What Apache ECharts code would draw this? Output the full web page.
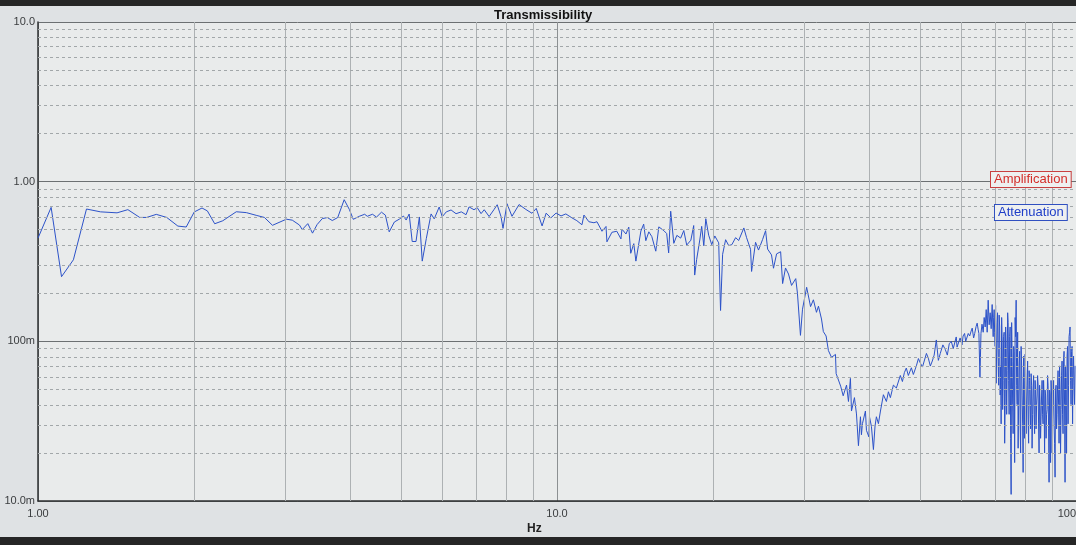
<!DOCTYPE html>
<html>
<head>
<meta charset="utf-8">
<script src="https://cdn.jsdelivr.net/npm/echarts@6/dist/echarts.min.js"></script>
<style>
html,body{margin:0;padding:0;background:#dfe2e4;}
#c{width:1076px;height:545px;}
</style>
</head>
<body>
<div id="c"></div>
<script>
// ---- tick labels ----
const xTickValues = [1, 10, 100];
const xTickLabels = ['1.00', '10.0', '100'];
const yTickValues = [0.01, 0.1, 1, 10];
const yTickLabels = ['10.0m', '100m', '1.00', '10.0'];
const xMinorGrid = [2, 3, 4, 5, 6, 7, 8, 9, 20, 30, 40, 50, 60, 70, 80, 90];
const yMinorGrid = [0.02, 0.03, 0.04, 0.05, 0.06, 0.07, 0.08, 0.09,
                    0.2, 0.3, 0.4, 0.5, 0.6, 0.7, 0.8, 0.9,
                    2, 3, 4, 5, 6, 7, 8, 9];

// ---- transmissibility trace: [frequency Hz, magnitude] ----
const lowBand = [[1.00,0.443],[1.06,0.69],[1.11,0.254],[1.17,0.324],[1.24,0.674],[1.32,0.647],[1.42,0.638],[1.49,0.668],[1.57,0.597],[1.62,0.597],[1.69,0.624],[1.77,0.597],[1.86,0.527],[1.93,0.52],[2.00,0.646],[2.07,0.684],[2.12,0.656],[2.19,0.545],[2.27,0.569],[2.41,0.648],[2.52,0.64],[2.64,0.614],[2.73,0.597],[2.83,0.533],[3.01,0.582],[3.09,0.574],[3.19,0.535]];

const midBand = [[3.23,0.501],[3.31,0.546],[3.38,0.476],[3.45,0.539],[3.53,0.587],[3.61,0.596],[3.69,0.571],[3.78,0.596],[3.89,0.771],[3.98,0.67],[4.05,0.581],[4.16,0.607],[4.26,0.625],[4.31,0.607],[4.41,0.625],[4.49,0.6],[4.59,0.644],[4.67,0.617],[4.75,0.485],[4.86,0.559],[4.97,0.583],[5.06,0.609],[5.12,0.575],[5.19,0.627],[5.26,0.422],[5.35,0.422],[5.43,0.601],[5.50,0.318],[5.60,0.44],[5.72,0.628],[5.80,0.585],[5.93,0.694],[6.01,0.603],[6.12,0.647],[6.25,0.665],[6.39,0.63],[6.54,0.647],[6.68,0.621],[6.77,0.695],[6.92,0.667],[7.02,0.687],[7.14,0.631],[7.24,0.667],[7.40,0.605],[7.56,0.668],[7.67,0.717],[7.80,0.605],[7.87,0.51],[8.01,0.728],[8.19,0.607],[8.45,0.719],[8.71,0.67],[8.95,0.634],[9.12,0.68],[9.36,0.528],[9.53,0.635],[9.73,0.593],[9.96,0.636],[10.18,0.61],[10.4,0.628],[10.68,0.594],[10.92,0.57]];

const rolloff = [[11.17,0.537],[11.27,0.618],[11.52,0.561],[11.78,0.553],[11.94,0.561],[12.21,0.489],[12.43,0.524],[12.48,0.42],[12.76,0.482],[13.04,0.489],[13.28,0.438],[13.34,0.504],[13.58,0.47],[13.75,0.519],[13.87,0.356],[14.06,0.409],[14.19,0.318],[14.51,0.491],[14.69,0.542],[14.83,0.427],[15.03,0.485],[15.23,0.453],[15.5,0.367],[15.71,0.521],[16.07,0.493],[16.27,0.473],[16.41,0.358],[16.56,0.653],[16.79,0.411],[17.02,0.461],[17.31,0.443],[17.55,0.494],[17.78,0.401],[18.11,0.43],[18.34,0.531],[18.42,0.26],[18.58,0.325],[18.84,0.431],[19.0,0.525],[19.18,0.397],[19.35,0.586],[19.6,0.462],[19.87,0.403],[20.14,0.457],[20.49,0.414],[20.66,0.156],[20.85,0.351],[21.13,0.433],[21.42,0.398],[21.72,0.403],[22.09,0.446],[22.39,0.428],[22.91,0.513],[23.19,0.446],[23.6,0.377],[23.71,0.274],[24.13,0.417],[24.45,0.373],[24.9,0.435],[25.23,0.493],[25.46,0.378],[25.9,0.348],[26.13,0.287],[26.49,0.353],[26.97,0.364],[27.21,0.23],[27.56,0.288],[27.93,0.264],[28.31,0.224],[28.84,0.247],[29.06,0.2],[29.45,0.109],[29.72,0.159],[30.27,0.218],[30.8,0.165],[31.19,0.182],[31.62,0.152]];

const notch = [[31.9,0.166],[32.33,0.138],[32.6,0.115],[33.0,0.108],[33.34,0.0875],[33.8,0.0794],[34.4,0.0828],[34.5,0.0628],[35.2,0.0524],[35.6,0.0456],[36.13,0.0532],[36.44,0.042],[36.76,0.0586],[36.93,0.0366],[37.42,0.0444],[37.76,0.0351],[38.09,0.0222],[38.43,0.0337],[38.6,0.026],[38.77,0.0305],[39.29,0.0366],[39.47,0.0277],[39.9,0.0252],[40.0,0.0337],[40.35,0.0293],[40.71,0.021],[41.0,0.0295],[41.25,0.0337],[41.62,0.0305],[42.0,0.0366],[42.55,0.0463],[43.12,0.042],[43.51,0.0483],[43.89,0.0444],[44.48,0.0532],[45.07,0.051],[45.87,0.0611],[46.3,0.056],[46.7,0.0637],[47.1,0.068],[47.53,0.0611],[48.17,0.0683],[48.6,0.062],[49.25,0.0702],[49.7,0.078],[50.12,0.0732],[50.6,0.069],[51.02,0.0673],[51.5,0.084],[51.93,0.0785],[52.4,0.07],[52.86,0.0753],[53.3,0.082],[53.81,0.102],[54.3,0.076],[54.77,0.0841],[55.4,0.095],[55.99,0.0889],[56.5,0.082],[56.99,0.0966],[57.5,0.1],[58.01,0.0901],[58.78,0.1065],[59.0,0.092],[59.4,0.092],[59.8,0.105],[60.09,0.0993],[60.3,0.095],[60.6,0.108],[61.0,0.112],[61.3,0.1],[61.6,0.098],[62.0,0.112],[62.4,0.108],[62.8,0.116],[63.1,0.121],[63.5,0.105],[63.8,0.112],[64.2,0.124],[64.5,0.13],[64.8,0.118],[65.0,0.112],[65.3,0.0596],[65.6,0.112],[65.9,0.128]];

const resonance = [[66.25,0.114],[66.54,0.141],[66.84,0.123],[67.14,0.158],[67.43,0.114],[67.73,0.181],[68.03,0.127],[68.33,0.151],[68.64,0.12],[68.94,0.17],[69.25,0.107],[69.55,0.158],[69.86,0.093],[70.17,0.0546],[70.48,0.131],[70.8,0.0752],[71.11,0.146],[71.43,0.0461],[71.74,0.0304],[72.06,0.0995],[72.38,0.0569],[72.7,0.114],[73.03,0.0402],[73.35,0.0929],[73.68,0.0655],[74.0,0.131],[74.33,0.0349],[74.66,0.123],[74.99,0.011],[75.33,0.0752],[75.66,0.0264],[76.0,0.0866],[76.34,0.141],[76.68,0.181],[77.02,0.0402],[77.36,0.0214],[77.7,0.0702],[78.05,0.0304],[78.39,0.0929],[78.74,0.0461],[79.09,0.0151],[79.44,0.0569],[79.79,0.083],[80.15,0.0264],[80.5,0.0531],[80.86,0.0326],[81.22,0.0655],[81.58,0.0402],[81.94,0.0627],[82.3,0.0214],[82.67,0.0495],[83.04,0.0349],[83.4,0.0569],[83.77,0.0283],[84.15,0.0461],[84.52,0.0531],[84.89,0.02],[85.27,0.0402],[85.65,0.034],[86.03,0.0569],[86.41,0.0304],[86.79,0.0448],[87.18,0.0495],[87.57,0.0247],[87.96,0.0374],[88.35,0.0531],[88.74,0.0131],[89.13,0.0461],[89.53,0.0569],[89.93,0.02],[90.33,0.0402],[90.73,0.0304],[91.13,0.0141],[91.53,0.0531],[91.94,0.0349],[92.35,0.0655],[92.76,0.023],[93.17,0.0495],[93.59,0.0374],[94.0,0.0752],[94.42,0.0264],[94.84,0.0866],[95.26,0.0131],[95.68,0.0569],[96.11,0.0807],[96.54,0.0304],[96.97,0.107],[97.4,0.123],[97.83,0.0402],[98.27,0.0929],[98.7,0.0655],[99.14,0.0531],[99.58,0.0702]];

const resonanceFill = [[69.4,0.141],[69.7,0.114],[70.0,0.168],[70.3,0.0807],[70.6,0.151],[70.95,0.0531],[71.27,0.123],[71.59,0.0702],[71.9,0.141],[72.22,0.0374],[72.54,0.107],[72.87,0.023],[73.19,0.123],[73.52,0.0349],[73.84,0.151],[74.17,0.0569],[74.5,0.107],[74.83,0.0247],[75.16,0.131],[75.5,0.0402],[75.83,0.0929],[76.17,0.0174],[76.51,0.107],[76.85,0.0531],[77.19,0.114],[77.53,0.0402],[77.88,0.0866],[78.22,0.02],[78.57,0.0702],[78.92,0.0304],[79.27,0.0807],[79.62,0.0247],[79.97,0.0655],[80.33,0.0402],[80.68,0.0752],[81.04,0.023],[81.4,0.0569],[81.76,0.0283],[82.12,0.0531],[82.49,0.0349],[82.85,0.061],[83.22,0.0264],[83.59,0.0495],[83.96,0.0402],[84.33,0.061],[84.7,0.0304],[85.08,0.0531],[85.46,0.0247],[85.84,0.0461],[86.22,0.0349],[86.6,0.0569],[86.99,0.02],[87.37,0.0461],[87.76,0.0349],[88.15,0.061],[88.55,0.0283],[88.94,0.0495],[89.33,0.0174],[89.73,0.0461],[90.13,0.0326],[90.53,0.0569],[90.93,0.023],[91.33,0.0495],[91.74,0.0283],[92.15,0.0531],[92.56,0.0402],[92.97,0.0702],[93.38,0.02],[93.8,0.061],[94.21,0.0349],[94.63,0.0752],[95.05,0.0402],[95.47,0.0702],[95.9,0.02],[96.33,0.0929],[96.76,0.0531],[97.19,0.114],[97.62,0.0569],[98.05,0.0866],[98.49,0.0304],[98.92,0.0807],[99.36,0.0402]];

const trace = [].concat(lowBand, midBand, rolloff, notch, resonance, resonanceFill)
  .sort((a, b) => a[0] - b[0]);

function tickLabel(values, labels) {
  return function (v) {
    for (let i = 0; i < values.length; i++) {
      if (Math.abs(values[i] - v) / values[i] < 1e-6) return labels[i];
    }
    return '';
  };
}

const chart = echarts.init(document.getElementById('c'), null, {renderer: 'canvas'});
const FONT = '"Liberation Sans", Arial, sans-serif';

chart.setOption({
  animation: false,
  backgroundColor: '#dfe2e4',
  grid: {
    left: 38, right: 0, top: 22, bottom: 44,
    show: true, backgroundColor: '#e9ebeb', borderWidth: 0,
    containLabel: false, outerBoundsMode: 'none'
  },
  xAxis: {
    type: 'log', logBase: 10, min: 1, max: 100,
    axisLine: {show: true, lineStyle: {color: '#2e3032', width: 1.5}},
    axisTick: {show: false},
    axisLabel: {
      formatter: tickLabel(xTickValues, xTickLabels),
      color: '#3a3c3e', fontSize: 11, fontFamily: FONT, margin: 7,
      alignMaxLabel: 'right'
    },
    splitLine: {show: true, lineStyle: {color: '#8c9092', width: 1}}
  },
  yAxis: {
    type: 'log', logBase: 10, min: 0.01, max: 10,
    axisLine: {show: true, lineStyle: {color: '#2e3032', width: 1.5}},
    axisTick: {show: false},
    axisLabel: {
      formatter: tickLabel(yTickValues, yTickLabels),
      color: '#3a3c3e', fontSize: 11, fontFamily: FONT, margin: 3
    },
    splitLine: {show: true, lineStyle: {color: '#6c7072', width: 1}}
  },
  graphic: [
    {type: 'rect', left: 0, top: 0, shape: {width: 1076, height: 6}, style: {fill: '#262626'}, silent: true},
    {type: 'rect', left: 0, top: 537, shape: {width: 1076, height: 8}, style: {fill: '#262626'}, silent: true},
    {type: 'text', left: 494, top: 9, style: {text: 'Transmissibility', font: 'bold 13px ' + FONT, fill: '#111'}},
    {type: 'text', left: 527, top: 523, style: {text: 'Hz', font: 'bold 12px ' + FONT, fill: '#222'}},
    {type: 'text', left: 990, top: 171, z: 100, style: {
      text: 'Amplification', font: '13px ' + FONT, fill: '#d42e2a',
      backgroundColor: '#eef0f0', borderColor: '#c84040', borderWidth: 1, padding: [1, 3, 1, 3]}},
    {type: 'text', left: 994, top: 204, z: 100, style: {
      text: 'Attenuation', font: '13px ' + FONT, fill: '#1f3ec8',
      backgroundColor: '#eef0f0', borderColor: '#3050c0', borderWidth: 1, padding: [1, 3, 1, 3]}}
  ],
  series: [
    {
      name: 'grid', type: 'line', data: [], silent: true, z: 1,
      markLine: {
        silent: true, symbol: ['none', 'none'], animation: false,
        label: {show: false},
        data: [].concat(
          xMinorGrid.map(v => ({xAxis: v, lineStyle: {color: '#adb1b3', width: 1, type: 'solid'}})),
          yMinorGrid.map(v => ({yAxis: v, lineStyle: {color: '#a2a7a9', width: 1, type: [3, 3]}}))
        )
      }
    },
    {
      name: 'Transmissibility', type: 'line', data: trace, z: 3,
      showSymbol: false, symbol: 'none', smooth: false, sampling: null,
      lineStyle: {color: '#2c52c8', width: 1},
      clip: true
    }
  ]
});
</script>
</body>
</html>
